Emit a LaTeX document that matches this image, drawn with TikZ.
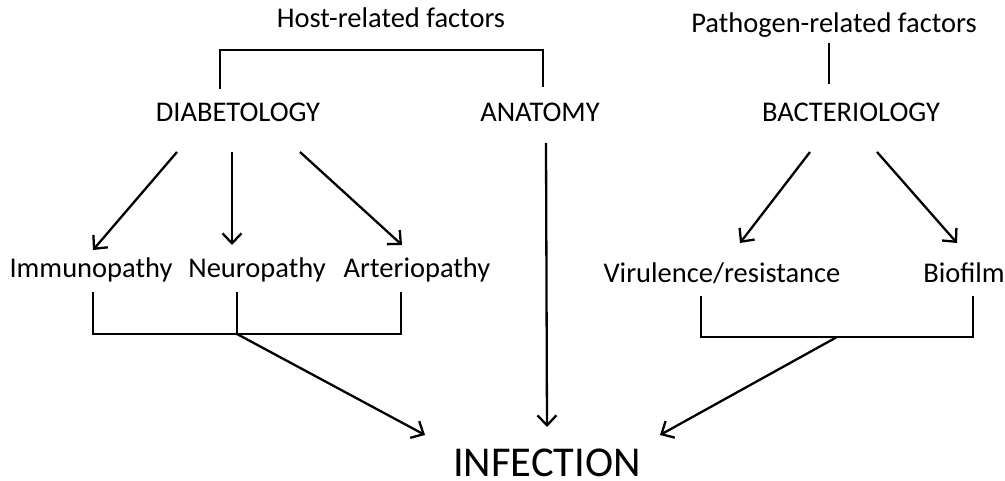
\documentclass[tikz,border=0pt]{standalone}
\usepackage{fontspec}
\setmainfont{Carlito}
\usetikzlibrary{arrows.meta}
\begin{document}
\begin{tikzpicture}[x=1pt,y=-1pt,
  lbl/.style={inner sep=0pt, anchor=base, font=\fontsize{28.5}{33}\selectfont},
  big/.style={inner sep=0pt, anchor=base, font=\fontsize{42.5}{50}\selectfont},
  brk/.style={line width=2.8pt, line cap=rect},
  arr/.style={line width=2.3pt, -{Straight Barb[length=10pt,width=19pt,line width=2.3pt]}}]
\useasboundingbox (0,0) rectangle (1005,481);
% text nodes
\node[lbl] (host) at (391,28) {Host-related factors};
\node[lbl] (path) at (834,33) {Pathogen-related factors};
\node[lbl] (dia) at (238,122) {DIABETOLOGY};
\node[lbl] (ana) at (540,122) {ANATOMY};
\node[lbl] (bac) at (851,122) {BACTERIOLOGY};
\node[lbl] (imm) at (91,278) {Immunopathy};
\node[lbl] (neu) at (257,278) {Neuropathy};
\node[lbl] (art) at (417,278) {Arteriopathy};
\node[lbl] (vir) at (722,283) {Virulence/resistance};
\node[lbl] (bio) at (964,283) {Biofilm};
\node[big] (inf) at (547,476) {INFECTION};
% connector points
\coordinate (hL) at (220,88);
\coordinate (hR) at (543,86);
\coordinate (pT) at (829,44);
\coordinate (pB) at (829,83);
\coordinate (d1) at (177,152);
\coordinate (d2) at (232,152);
\coordinate (d3) at (300,152);
\coordinate (i1) at (93,250);
\coordinate (n1) at (232,245);
\coordinate (a1) at (402,245);
\coordinate (b1) at (810,152);
\coordinate (b2) at (877,152);
\coordinate (v1) at (740,243);
\coordinate (f1) at (957,243);
\coordinate (imB) at (93,293);
\coordinate (neB) at (237,293);
\coordinate (arB) at (401,293);
\coordinate (lJ) at (237,334);
\coordinate (viB) at (701,297);
\coordinate (biB) at (973,297);
\coordinate (rJ) at (837,337);
\coordinate (anT) at (546,143);
\coordinate (infL) at (425,435);
\coordinate (infT) at (547,427);
\coordinate (infR) at (660,435);
% brackets
\draw[brk] (hL) |- (391,50) -| (hR);
\draw[brk] (pT) -- (pB);
\draw[brk] (imB) |- (lJ) -| (arB);
\draw[brk] (neB) -- (lJ);
\draw[brk] (viB) |- (rJ) -| (biB);
% arrows
\draw[arr] (d1) -- (i1);
\draw[arr] (d2) -- (n1);
\draw[arr] (d3) -- (a1);
\draw[arr] (b1) -- (v1);
\draw[arr] (b2) -- (f1);
\draw[arr] (lJ) -- (infL);
\draw[arr] (anT) -- (infT);
\draw[arr] (rJ) -- (infR);
\end{tikzpicture}
\end{document}
